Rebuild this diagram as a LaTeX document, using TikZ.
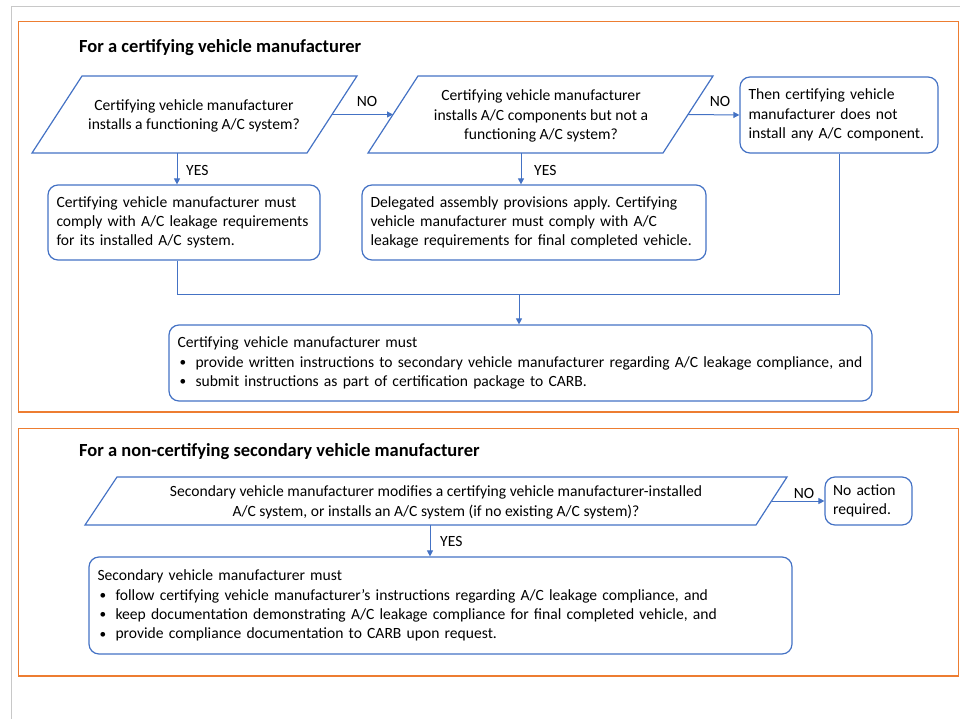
\documentclass[tikz,border=0pt]{standalone}
\usepackage{fontspec}
\setmainfont{Carlito}
\usetikzlibrary{arrows.meta,calc}
\frenchspacing
\definecolor{obl}{HTML}{4472C4}
\definecolor{oor}{HTML}{ED7D31}
\definecolor{fgray}{HTML}{C8C8C8}
\newcommand{\bul}{\hspace*{2pt}\makebox[16pt][l]{\raisebox{0.5pt}{\scalebox{0.85}{•}}}}
\tikzset{
  body/.style={font=\fontsize{15.6}{19.3}\selectfont},
  ttl/.style={font=\fontsize{18.5}{22}\selectfont\bfseries, anchor=west, inner sep=0pt},
  rbox/.style={body, draw=obl, line width=1.2pt, rounded corners=10pt, align=left, inner xsep=8.5pt, inner ysep=0pt},
  para/.style={draw=obl, line width=1.2pt},
  ptext/.style={body, align=center, inner sep=0pt},
  lbl/.style={body, inner sep=0pt},
  arr/.style={draw=obl, line width=1pt, -{Triangle[length=6pt,width=6pt]}},
  cline/.style={draw=obl, line width=1pt},
  frame/.style={draw=oor, line width=1.8pt},
}
\begin{document}
\begin{tikzpicture}[x=1pt,y=-1pt]
\useasboundingbox (0,0) rectangle (960,719);
% outer gray frame
\draw[fgray, line width=1.2pt] (11.5,719) -- (11.5,6.5) -- (960,6.5);
% orange section frames
\draw[frame] (18.5,21.5) rectangle (958.5,412);
\draw[frame] (18.5,428.5) rectangle (958.5,676);

% ---- Section 1 ----
\node[ttl] (t1) at (79,48) {For a certifying vehicle manufacturer};

% parallelogram 1
\draw[para] (82,76) -- (357,76) -- (307,153) -- (32,153) -- cycle;
\coordinate (p1e) at (332,114.5);
\coordinate (p1b) at (177,153);
\node[ptext] (p1) at (194,116) {Certifying vehicle manufacturer\\installs a functioning A/C system?};

% parallelogram 2
\draw[para] (418,76) -- (713,76) -- (663,153) -- (368,153) -- cycle;
\coordinate (p2w) at (393,114.5);
\coordinate (p2e) at (688,114.5);
\coordinate (p2b) at (521,153);
\node[ptext] (p2) at (541,116) {Certifying vehicle manufacturer\\installs A/C components but not a\\functioning A/C system?};

% box R
\node[rbox, minimum width=198pt, minimum height=76pt, text width=181pt] (r) at (839,115)
  {Then certifying vehicle\\manufacturer does not\\install any A/C component.};

% box A1
\node[rbox, minimum width=272pt, minimum height=75pt, text width=255pt] (a1) at (184,222.5)
  {Certifying vehicle manufacturer must\\comply with A/C leakage requirements\\for its installed A/C system.};

% box A2
\node[rbox, minimum width=344pt, minimum height=75pt, text width=327pt] (a2) at (534,222.5)
  {Delegated assembly provisions apply. Certifying\\vehicle manufacturer must comply with A/C\\leakage requirements for final completed vehicle.};

% box C
\node[rbox, minimum width=703pt, minimum height=76pt, text width=686pt] (c) at (520.5,363)
  {Certifying vehicle manufacturer must\\
   \bul provide written instructions to secondary vehicle manufacturer regarding A/C leakage compliance, and\\
   \bul submit instructions as part of certification package to CARB.};

% connectors section 1
\draw[arr] (p1e) -- (p2w);
\node[lbl] (no1) at (367,101) {NO};
\draw[arr] (p2e) -- (r.west);
\node[lbl] (no2) at (720,101) {NO};
\draw[arr] (p1b) -- (p1b |- a1.north);
\node[lbl, anchor=west] (yes1) at (186,170) {YES};
\draw[arr] (p2b) -- (p2b |- a2.north);
\node[lbl, anchor=west] (yes2) at (534,170) {YES};
\coordinate (m) at (519,294);
\draw[cline] (p1b |- a1.south) |- (r.south |- m) -- (r.south);
\draw[arr] (m) -- (m |- c.north);

% ---- Section 2 ----
\node[ttl] (t2) at (79,452) {For a non-certifying secondary vehicle manufacturer};

\draw[para] (117,477) -- (787,477) -- (756,525) -- (85,525) -- cycle;
\coordinate (p3e) at (771.5,501);
\coordinate (p3b) at (430,525);
\node[ptext] (p3) at (436,502.5) {Secondary vehicle manufacturer modifies a certifying vehicle manufacturer-installed\\A/C system, or installs an A/C system (if no existing A/C system)?};

\node[rbox, minimum width=87pt, minimum height=48pt, text width=71pt, inner xsep=8pt] (n) at (868.5,501)
  {No action\\required.};

\node[rbox, minimum width=703pt, minimum height=97pt, text width=686pt] (s) at (440.5,605.5)
  {Secondary vehicle manufacturer must\\
   \bul follow certifying vehicle manufacturer’s instructions regarding A/C leakage compliance, and\\
   \bul keep documentation demonstrating A/C leakage compliance for final completed vehicle, and\\
   \bul provide compliance documentation to CARB upon request.};

\draw[arr] (p3e) -- (n.west);
\node[lbl] (no3) at (804,493) {NO};
\draw[arr] (p3b) -- (p3b |- s.north);
\node[lbl, anchor=west] (yes3) at (440,541) {YES};
\end{tikzpicture}
\end{document}
